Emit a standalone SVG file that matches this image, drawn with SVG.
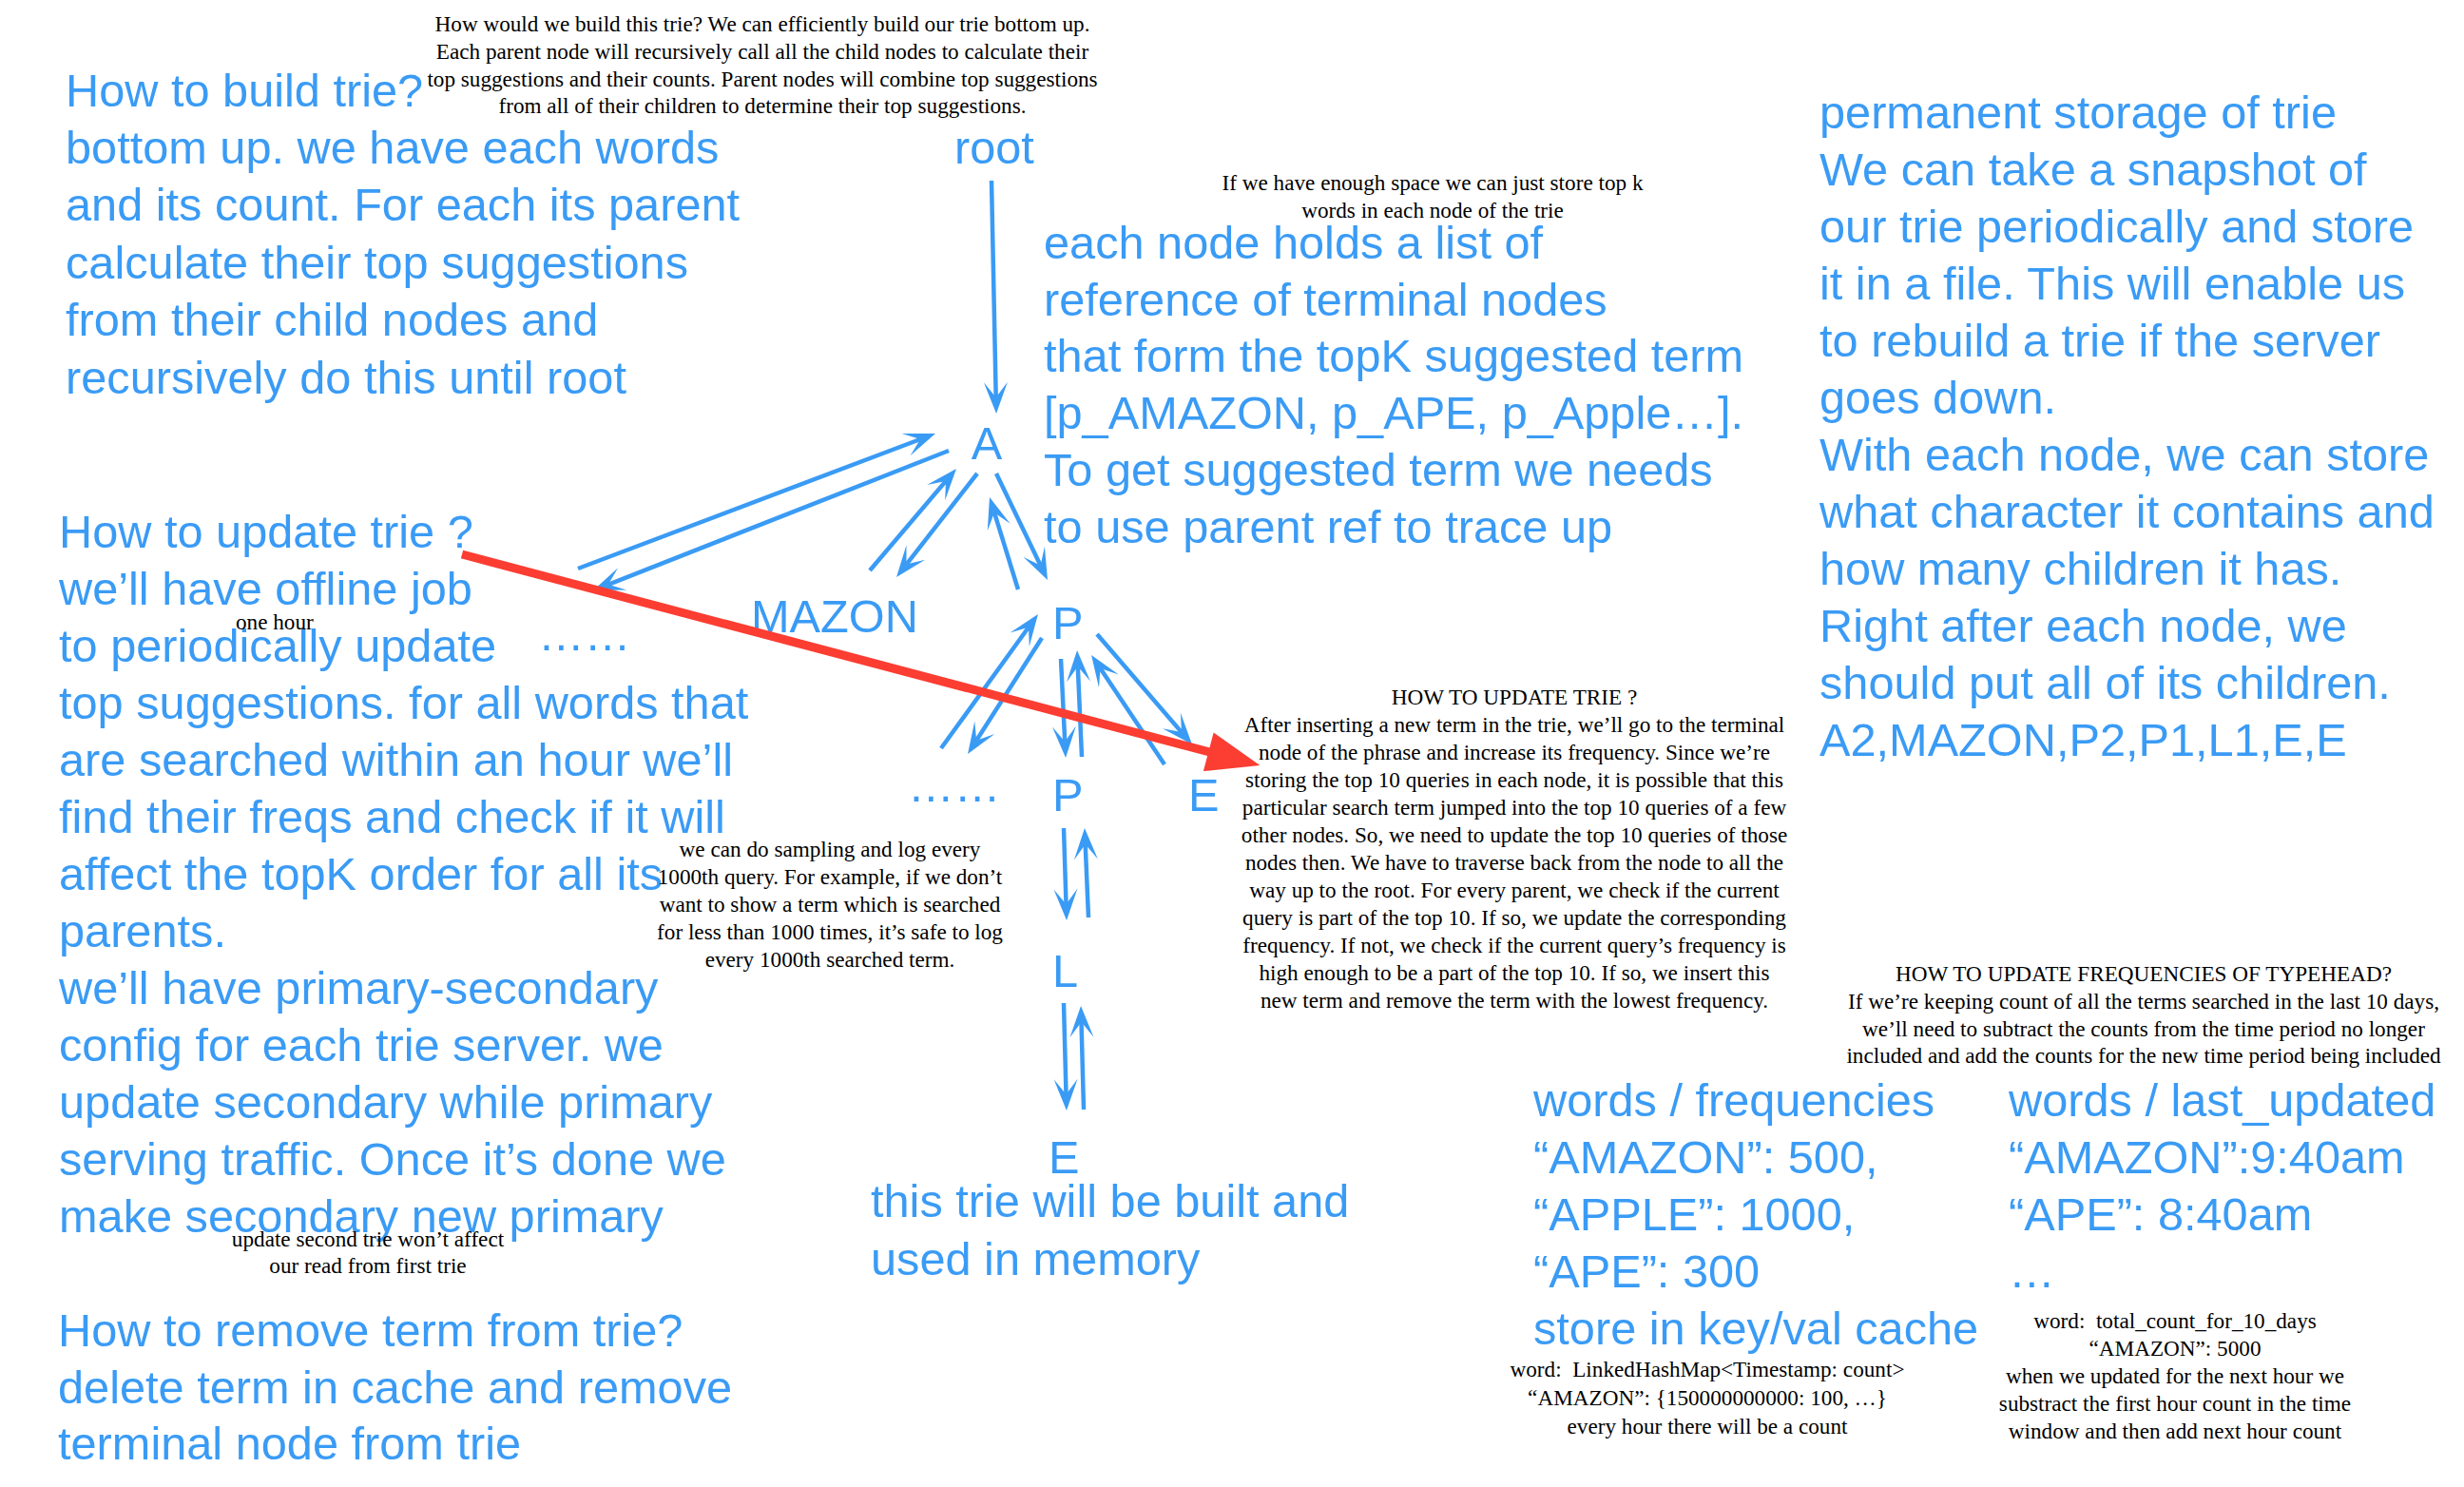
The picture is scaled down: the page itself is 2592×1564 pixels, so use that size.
<svg xmlns="http://www.w3.org/2000/svg" width="2592" height="1564" viewBox="0 0 2592 1564">
<defs>
<style>
.b{font-family:"Liberation Sans",Arial,Helvetica,sans-serif;font-size:48.7px;fill:#3A9BF5}
.s{font-family:"Liberation Serif","Times New Roman",serif;font-size:23.2px;fill:#000}
.m{text-anchor:middle}
.c{fill:none;stroke:#3A9BF5;stroke-width:4.5}
.r{fill:none;stroke:#FC3D32;stroke-width:9}
</style>
<marker id="ah" markerUnits="userSpaceOnUse" markerWidth="40" markerHeight="30" refX="17" refY="15" viewBox="0 0 40 30" orient="auto" overflow="visible">
<path d="M34,15 L1,2.5 L17,15 L1,27.5 Z" fill="#3A9BF5"/>
</marker>
<marker id="rh" markerUnits="userSpaceOnUse" markerWidth="60" markerHeight="50" refX="8" refY="25" viewBox="0 0 60 50" orient="auto" overflow="visible">
<path d="M56,25 L0,4 L0,46 Z" fill="#FC3D32"/>
</marker>
</defs>
<rect width="2592" height="1564" fill="#fff"/>

<g id="note-build-top">
<text class="s m" x="802"><tspan x="802" y="33">How would we build this trie? We can efficiently build our trie bottom up.</tspan><tspan x="802" y="62">Each parent node will recursively call all the child nodes to calculate their</tspan><tspan x="802" y="90.5">top suggestions and their counts. Parent nodes will combine top suggestions</tspan><tspan x="802" y="119">from all of their children to determine their top suggestions.</tspan></text>
</g>

<g id="note-build">
<text class="b"><tspan x="69" y="111.5">How to build trie?</tspan><tspan x="69" y="172">bottom up. we have each words</tspan><tspan x="69" y="232">and its count. For each its parent</tspan><tspan x="69" y="292.5">calculate their top suggestions</tspan><tspan x="69" y="353">from their child nodes and</tspan><tspan x="69" y="413.5">recursively do this until root</tspan></text>
</g>

<g id="note-update">
<text class="b"><tspan x="62" y="576">How to update trie ?</tspan><tspan x="62" y="636">we’ll have offline job</tspan><tspan x="62" y="696">to periodically update</tspan><tspan x="62" y="756">top suggestions. for all words that</tspan><tspan x="62" y="816">are searched within an hour we’ll</tspan><tspan x="62" y="876">find their freqs and check if it will</tspan><tspan x="62" y="936">affect the topK order for all its</tspan><tspan x="62" y="996">parents.</tspan><tspan x="62" y="1056">we’ll have primary-secondary</tspan><tspan x="62" y="1116">config for each trie server. we</tspan><tspan x="62" y="1176">update secondary while primary</tspan><tspan x="62" y="1236">serving traffic. Once it’s done we</tspan><tspan x="62" y="1296">make secondary new primary</tspan></text>
<text class="s" x="248" y="662">one hour</text>
<text class="s m"><tspan x="387" y="1311">update second trie won’t affect</tspan><tspan x="387" y="1339">our read from first trie</tspan></text>
</g>

<g id="note-remove">
<text class="b"><tspan x="61" y="1416">How to remove term from trie?</tspan><tspan x="61" y="1476">delete term in cache and remove</tspan><tspan x="61" y="1535">terminal node from trie</tspan></text>
</g>

<g id="note-node-list">
<text class="s m"><tspan x="1507" y="200">If we have enough space we can just store top k</tspan><tspan x="1507" y="228.5">words in each node of the trie</tspan></text>
<text class="b"><tspan x="1098" y="271.5">each node holds a list of</tspan><tspan x="1098" y="331.5">reference of terminal nodes</tspan><tspan x="1098" y="391">that form the topK suggested term</tspan><tspan x="1098" y="451">[p_AMAZON, p_APE, p_Apple…].</tspan><tspan x="1098" y="511">To get suggested term we needs</tspan><tspan x="1098" y="571">to use parent ref to trace up</tspan></text>
</g>

<g id="note-storage">
<text class="b"><tspan x="1914" y="134.5">permanent storage of trie</tspan><tspan x="1914" y="194.5">We can take a snapshot of</tspan><tspan x="1914" y="254.5">our trie periodically and store</tspan><tspan x="1914" y="314.5">it in a file. This will enable us</tspan><tspan x="1914" y="374.5">to rebuild a trie if the server</tspan><tspan x="1914" y="434.5">goes down.</tspan><tspan x="1914" y="494.5">With each node, we can store</tspan><tspan x="1914" y="554.5">what character it contains and</tspan><tspan x="1914" y="614.5">how many children it has.</tspan><tspan x="1914" y="674.5">Right after each node, we</tspan><tspan x="1914" y="734.5">should put all of its children.</tspan><tspan x="1914" y="794.5">A2,MAZON,P2,P1,L1,E,E</tspan></text>
</g>

<g id="note-update-trie">
<text class="s m"><tspan x="1593" y="741">HOW TO UPDATE TRIE ?</tspan><tspan x="1593" y="770">After inserting a new term in the trie, we’ll go to the terminal</tspan><tspan x="1593" y="799">node of the phrase and increase its frequency. Since we’re</tspan><tspan x="1593" y="828">storing the top 10 queries in each node, it is possible that this</tspan><tspan x="1593" y="857">particular search term jumped into the top 10 queries of a few</tspan><tspan x="1593" y="886">other nodes. So, we need to update the top 10 queries of those</tspan><tspan x="1593" y="915">nodes then. We have to traverse back from the node to all the</tspan><tspan x="1593" y="944">way up to the root. For every parent, we check if the current</tspan><tspan x="1593" y="973">query is part of the top 10. If so, we update the corresponding</tspan><tspan x="1593" y="1002">frequency. If not, we check if the current query’s frequency is</tspan><tspan x="1593" y="1031">high enough to be a part of the top 10. If so, we insert this</tspan><tspan x="1593" y="1060">new term and remove the term with the lowest frequency.</tspan></text>
</g>

<g id="note-sampling">
<text class="s m"><tspan x="873" y="901">we can do sampling and log every</tspan><tspan x="873" y="930">1000th query. For example, if we don’t</tspan><tspan x="873" y="959">want to show a term which is searched</tspan><tspan x="873" y="988">for less than 1000 times, it’s safe to log</tspan><tspan x="873" y="1017">every 1000th searched term.</tspan></text>
</g>

<g id="note-memory">
<text class="b"><tspan x="916" y="1280">this trie will be built and</tspan><tspan x="916" y="1341">used in memory</tspan></text>
</g>

<g id="note-frequencies">
<text class="s m"><tspan x="2255" y="1032">HOW TO UPDATE FREQUENCIES OF TYPEHEAD?</tspan><tspan x="2255" y="1061">If we’re keeping count of all the terms searched in the last 10 days,</tspan><tspan x="2255" y="1090">we’ll need to subtract the counts from the time period no longer</tspan><tspan x="2255" y="1118">included and add the counts for the new time period being included</tspan></text>
</g>

<g id="cache-frequencies">
<text class="b"><tspan x="1613" y="1174">words / frequencies</tspan><tspan x="1613" y="1234">“AMAZON”: 500,</tspan><tspan x="1613" y="1294">“APPLE”: 1000,</tspan><tspan x="1613" y="1354">“APE”: 300</tspan><tspan x="1613" y="1414">store in key/val cache</tspan></text>
<text class="s m"><tspan x="1796" y="1448">word:&#160; LinkedHashMap&lt;Timestamp: count&gt;</tspan><tspan x="1796" y="1478">“AMAZON”: {150000000000: 100, …}</tspan><tspan x="1796" y="1508">every hour there will be a count</tspan></text>
</g>

<g id="cache-last-updated">
<text class="b"><tspan x="2113" y="1174">words / last_updated</tspan><tspan x="2113" y="1234">“AMAZON”:9:40am</tspan><tspan x="2113" y="1294">“APE”: 8:40am</tspan><tspan x="2113" y="1354">…</tspan></text>
<text class="s m"><tspan x="2288" y="1397">word:&#160; total_count_for_10_days</tspan><tspan x="2288" y="1426">“AMAZON”: 5000</tspan><tspan x="2288" y="1455">when we updated for the next hour we</tspan><tspan x="2288" y="1484">substract the first hour count in the time</tspan><tspan x="2288" y="1513">window and then add next hour count</tspan></text>
</g>

<g id="node-root"><text class="b" x="1004" y="172">root</text></g>
<g id="node-A"><text class="b m" x="1038" y="483">A</text></g>
<g id="node-MAZON"><text class="b" x="790" y="665">MAZON</text></g>
<g id="node-dots1"><text class="b" x="566" y="684">……</text></g>
<g id="node-P1"><text class="b" x="1107" y="672">P</text></g>
<g id="node-dots2"><text class="b" x="955" y="843">……</text></g>
<g id="node-P2"><text class="b" x="1107" y="853">P</text></g>
<g id="node-E1"><text class="b" x="1250" y="853">E</text></g>
<g id="node-L"><text class="b" x="1107" y="1038">L</text></g>
<g id="node-E2"><text class="b" x="1103" y="1234">E</text></g>

<g id="connectors">
<line class="c" x1="1043" y1="190" x2="1047.7" y2="418" marker-end="url(#ah)"/>
<line class="c" x1="608" y1="598" x2="968.1" y2="462" marker-end="url(#ah)"/>
<line class="c" x1="998" y1="474" x2="639.8" y2="614.8" marker-end="url(#ah)"/>
<line class="c" x1="915" y1="600" x2="995" y2="505.9" marker-end="url(#ah)"/>
<line class="c" x1="1028" y1="498" x2="953.5" y2="593.6" marker-end="url(#ah)"/>
<line class="c" x1="1071" y1="620" x2="1046" y2="539.2" marker-end="url(#ah)"/>
<line class="c" x1="1048" y1="498" x2="1094.6" y2="594.7" marker-end="url(#ah)"/>
<line class="c" x1="990" y1="787" x2="1082" y2="659.8" marker-end="url(#ah)"/>
<line class="c" x1="1096" y1="671" x2="1027.2" y2="778.7" marker-end="url(#ah)"/>
<line class="c" x1="1116" y1="693" x2="1120.2" y2="780" marker-end="url(#ah)"/>
<line class="c" x1="1138" y1="796" x2="1133.8" y2="701" marker-end="url(#ah)"/>
<line class="c" x1="1225" y1="804" x2="1157.5" y2="703.1" marker-end="url(#ah)"/>
<line class="c" x1="1154" y1="667" x2="1242.9" y2="770.1" marker-end="url(#ah)"/>
<line class="c" x1="1119" y1="871" x2="1121.5" y2="951" marker-end="url(#ah)"/>
<line class="c" x1="1145" y1="965" x2="1141.7" y2="888" marker-end="url(#ah)"/>
<line class="c" x1="1119" y1="1055" x2="1121.5" y2="1151" marker-end="url(#ah)"/>
<line class="c" x1="1140" y1="1167" x2="1137.5" y2="1075" marker-end="url(#ah)"/>
<line class="r" x1="486" y1="583" x2="1279" y2="792.8" marker-end="url(#rh)"/>
</g>
</svg>
